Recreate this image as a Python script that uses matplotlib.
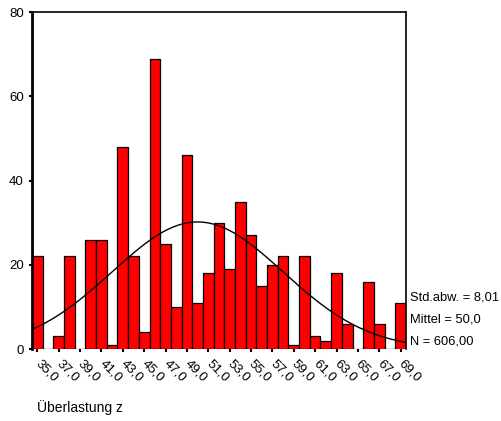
import numpy as np
import matplotlib.pyplot as plt

plt.rcParams['font.family'] = ['Liberation Sans', 'DejaVu Sans']

# Häufigkeiten je Wert (35 ... 69)
werte = list(range(35, 70))
anzahl = [22, 0, 3, 22, 0, 26, 26, 1, 48, 22, 4, 69, 25, 10, 46, 11, 18,
          30, 19, 35, 27, 15, 20, 22, 1, 22, 3, 2, 18, 6, 0, 16, 6, 0, 11]
std_abw = 8.01
mittel = 50.0
n = 606

fig = plt.figure(figsize=(5.02, 4.21), dpi=100)
ax = fig.add_axes([0.0637, 0.171, 0.745, 0.8])

ax.bar(werte, anzahl, width=1.0, color='#ff0000', edgecolor='black', linewidth=0.9)

# Normalverteilungskurve
xs = np.linspace(34.5, 69.5, 300)
ys = n * 1.0 / (std_abw * np.sqrt(2 * np.pi)) * np.exp(-0.5 * ((xs - mittel) / std_abw) ** 2)
ax.plot(xs, ys, color='black', linewidth=1.0)

ax.set_xlim(34.5, 69.5)
ax.set_ylim(0, 80)
ax.set_yticks([0, 20, 40, 60, 80])
ticks = list(range(35, 70, 2))
ax.set_xticks(ticks)
ax.set_xticklabels([f"{t},0" for t in ticks], rotation=-45, ha='left', va='center',
                   rotation_mode='anchor', fontsize=9.5)
ax.tick_params(axis='both', length=2, width=1.5, labelsize=9.5, pad=4)
ax.tick_params(axis='x', pad=7)

ax.spines['bottom'].set_visible(False)
ax.spines['left'].set_linewidth(2)
ax.spines['top'].set_linewidth(1.2)
ax.spines['right'].set_linewidth(1.2)

fig.text(410 / 502, 1 - 297 / 421, "Std.abw. = 8,01", fontsize=9.3, va='center')
fig.text(410 / 502, 1 - 319 / 421, "Mittel = 50,0", fontsize=9.3, va='center')
fig.text(410 / 502, 1 - 341 / 421, "N = 606,00", fontsize=9.3, va='center')
fig.text(37 / 502, 1 - 408 / 421, "Überlastung z", fontsize=10, va='center')

fig.savefig("out.png", dpi=100)
